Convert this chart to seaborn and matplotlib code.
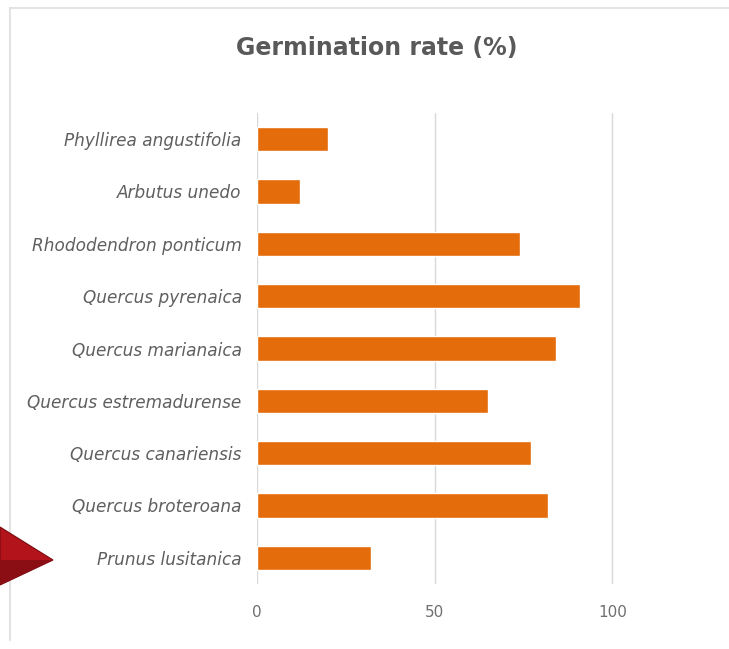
import matplotlib
matplotlib.use("Agg")
import matplotlib.pyplot as plt
import seaborn as sns
import pandas as pd
from matplotlib.patches import Polygon

species = [
    "Phyllirea angustifolia",
    "Arbutus unedo",
    "Rhododendron ponticum",
    "Quercus pyrenaica",
    "Quercus marianaica",
    "Quercus estremadurense",
    "Quercus canariensis",
    "Quercus broteroana",
    "Prunus lusitanica",
]
germination = [20, 12, 74, 91, 84, 65, 77, 82, 32]
x_ticks = [0, 50, 100]

df = pd.DataFrame({"species": species, "rate": germination})

sns.set_style("white")
plt.rcParams["font.family"] = ["DejaVu Sans"]

fig = plt.figure(figsize=(7.29, 6.49), dpi=100)
ax = fig.add_axes([257 / 729, 1 - 584 / 649, (616 - 257) / 729, (584 - 113) / 649])

sns.barplot(data=df, x="rate", y="species", orient="h", color="#E46C0A",
            saturation=1, width=0.46, ax=ax)

ax.set_xlim(0, 101)
ax.set_xticks(x_ticks)
ax.set_xticklabels([str(t) for t in x_ticks])
ax.xaxis.grid(True, color="#D9D9D9", linewidth=1)
ax.set_axisbelow(True)
for s in ax.spines.values():
    s.set_visible(False)
ax.set_xlabel("")
ax.set_ylabel("")
ax.tick_params(axis="y", length=0, pad=11, labelsize=12.2, labelcolor="#5F5F5F")
ax.tick_params(axis="x", length=0, pad=15, labelsize=11, labelcolor="#6F6F6F")
for lbl in ax.get_yticklabels():
    lbl.set_fontstyle("italic")

fig.text(377 / 729, 1 - 48 / 649, "Germination rate (%)", ha="center", va="center",
         fontsize=17, fontweight="bold", color="#595959")

# chart frame
fig.add_artist(plt.Line2D([10 / 729, 1], [1 - 8 / 649, 1 - 8 / 649], transform=fig.transFigure,
                          color="#E3E3E3", linewidth=1.5, zorder=1))
fig.add_artist(plt.Line2D([10 / 729, 10 / 729], [1 - 8 / 649, 1 - 640 / 649], transform=fig.transFigure,
                          color="#E3E3E3", linewidth=1.5, zorder=1))

# decorative red arrow
def fc(px, py):
    return (px / 729, 1 - py / 649)

arrow = Polygon([fc(0, 527), fc(53, 560), fc(0, 585)], closed=True,
                transform=fig.transFigure, facecolor="#B3141B", edgecolor="#7A0A0F",
                linewidth=0.8, zorder=5)
fig.add_artist(arrow)
arrow2 = Polygon([fc(0, 560), fc(53, 560), fc(0, 585)], closed=True,
                 transform=fig.transFigure, facecolor="#8A0E14", edgecolor="none", zorder=6)
fig.add_artist(arrow2)

fig.savefig("out.png", dpi=100)
